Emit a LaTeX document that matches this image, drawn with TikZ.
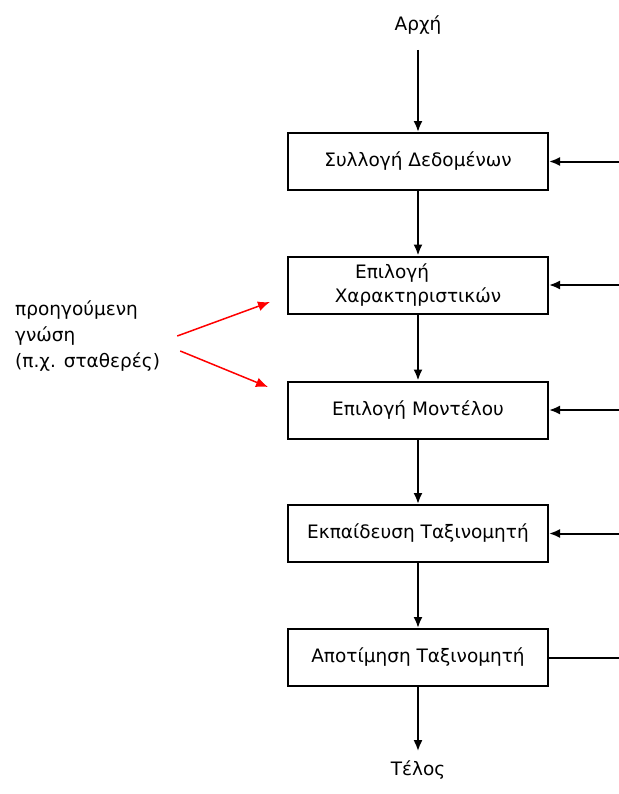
\documentclass[tikz,border=0pt]{standalone}
\usepackage{fontspec}
\setmainfont{DejaVu Sans}
\usetikzlibrary{decorations,arrows,arrows.meta,shapes}

\begin{document}
\begin{tikzpicture}[every node/.style={font=\fontsize{18.5bp}{24bp}\selectfont},
  box/.style={draw,line width=2bp,minimum width=260bp,minimum height=57bp,inner sep=0pt,align=center},
  flow/.style={-{Latex[length=11bp,width=9bp]},line width=2bp},
  knowledge/.style={-{Latex[length=12bp,width=10bp]},line width=1.5bp,red}]

\useasboundingbox (0bp,0bp) rectangle (619bp,-794bp);

\node (start) at (418bp,-25bp) {Αρχή};
\node (B1) at (418bp,-161.5bp)[box] {Συλλογή Δεδομένων};
\node (B2) at (418bp,-285bp)[box,align=left] {\hspace*{1.1em}Επιλογή\\Χαρακτηριστικών};
\node (B3) at (418bp,-410bp)[box] {Επιλογή Μοντέλου};
\node (B4) at (418bp,-533.5bp)[box] {Εκπαίδευση Ταξινομητή};
\node (B5) at (418bp,-657.5bp)[box] {Αποτίμηση Ταξινομητή};
\node (end) at (418bp,-770bp) {Τέλος};
\node (prior) at (15bp,-336bp)[anchor=west,align=left,inner sep=0pt,font=\fontsize{18.5bp}{26bp}\selectfont] {προηγούμενη\\γνώση\\(π.χ. σταθερές)};
\coordinate (edge) at (619bp,0bp);
\coordinate (K2) at (270bp,-302bp);
\coordinate (K3) at (268bp,-387bp);

\draw [flow,shorten <=12bp] (start) -- (B1);
\draw [flow] (B1) -- (B2);
\draw [flow] (B2) -- (B3);
\draw [flow] (B3) -- (B4);
\draw [flow] (B4) -- (B5);
\draw [flow,shorten >=6bp] (B5) -- (end);
\draw [flow] (B1.east -| edge) -- (B1.east);
\draw [flow] (B2.east -| edge) -- (B2.east);
\draw [flow] (B3.east -| edge) -- (B3.east);
\draw [flow] (B4.east -| edge) -- (B4.east);
\draw [line width=2bp] (B5.east) -- (B5.east -| edge);
\draw [knowledge] ([shift={(17bp,0bp)}]prior.east) -- (K2);
\draw [knowledge] ([shift={(20bp,-15bp)}]prior.east) -- (K3);
\end{tikzpicture}
\end{document}
